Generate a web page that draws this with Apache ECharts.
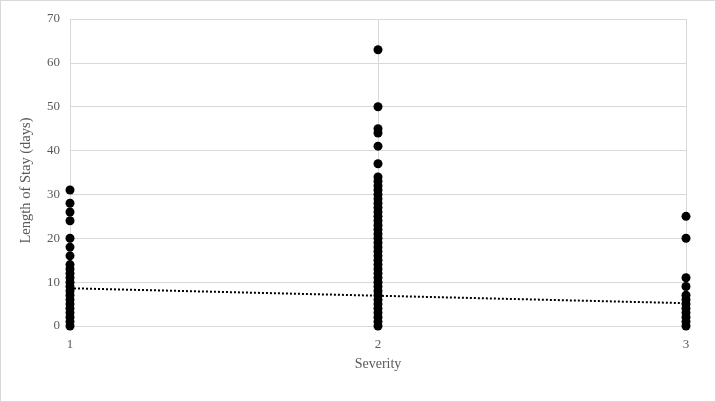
<!DOCTYPE html>
<html lang="en">
<head>
    <meta charset="UTF-8">
    <title>Length of Stay by Severity</title>
    <script src="https://cdn.jsdelivr.net/npm/echarts/dist/echarts.min.js"></script>
</head>
<body style="margin: 0">
    <div id="chart" style="width: 716px; height: 402px; box-sizing: border-box; border: 1px solid #d9d9d9;"></div>
    <script>
        // values (days)
        const sev1Values = [0, 1, 2, 3, 4, 5, 6, 7, 8, 9, 10, 11, 12, 13, 14, 16, 18, 20, 24, 26, 28, 31];
        const sev2Values = [0, 1, 2, 3, 4, 5, 6, 7, 8, 9, 10, 11, 12, 13, 14, 15, 16, 17, 18, 19, 20,
            21, 22, 23, 24, 25, 26, 27, 28, 29, 30, 31, 32, 33, 34, 37, 41, 44, 45, 50, 63];
        const sev3Values = [0, 1, 2, 3, 4, 5, 6, 7, 9, 11, 20, 25];
        const severities = [1, 2, 3];
        // linear trend end points
        const trendX = [1, 3];
        const trendY = [8.6, 5.2];

        const groups = [sev1Values, sev2Values, sev3Values];
        const points = [];
        groups.forEach(function (vals, i) {
            vals.forEach(function (v) { points.push([severities[i], v]); });
        });

        const textColor = '#595959';
        const font = 'Liberation Serif';
        const gridColor = '#d9d9d9';

        const myChart = echarts.init(document.getElementById('chart'));
        const option = {
            animation: false,
            backgroundColor: '#fff',
            grid: { left: 69, right: 29, top: 18, bottom: 75 },
            xAxis: {
                type: 'value',
                min: 1, max: 3, interval: 1,
                name: 'Severity',
                nameLocation: 'middle',
                nameGap: 31,
                nameTextStyle: { color: textColor, fontFamily: font, fontSize: 14 },
                axisLine: { show: true, lineStyle: { color: gridColor } },
                axisTick: { show: false },
                axisLabel: { color: textColor, fontFamily: font, fontSize: 13, margin: 12 },
                splitLine: { show: true, lineStyle: { color: gridColor } }
            },
            yAxis: {
                type: 'value',
                min: 0, max: 70, interval: 10,
                name: 'Length of Stay (days)',
                nameLocation: 'middle',
                nameGap: 36,
                nameTextStyle: { color: textColor, fontFamily: font, fontSize: 14.5, padding: [0, 16, 0, 0] },
                axisLine: { show: false },
                axisTick: { show: false },
                axisLabel: { color: textColor, fontFamily: font, fontSize: 13, margin: 10 },
                splitLine: { show: true, lineStyle: { color: gridColor } }
            },
            series: [
                {
                    type: 'scatter',
                    data: points,
                    symbolSize: 9,
                    itemStyle: { color: '#000', opacity: 1 }
                },
                {
                    type: 'line',
                    data: trendX.map(function (x, i) { return [x, trendY[i]]; }),
                    symbol: 'none',
                    lineStyle: { color: '#000', width: 2, type: [2, 2] },
                    z: 3
                }
            ]
        };
        myChart.setOption(option);
    </script>
</body>
</html>
